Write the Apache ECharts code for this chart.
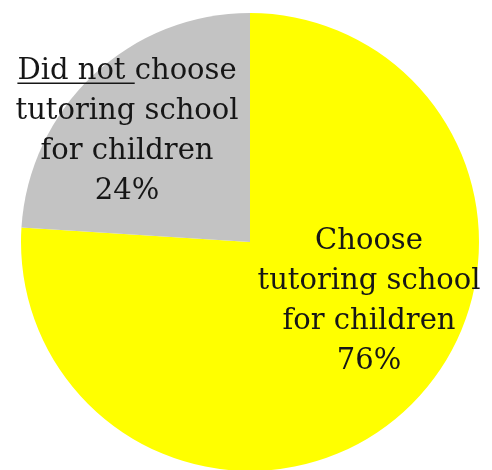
<!DOCTYPE html>
<html>
<head>
<meta charset="utf-8">
<script src="https://cdn.jsdelivr.net/npm/echarts@6/dist/echarts.min.js"></script>
<style>
  html, body { margin: 0; padding: 0; background: #fff; }
  #chart { width: 492px; height: 470px; }
</style>
</head>
<body>
<div id="chart"></div>
<script>
// Survey shares: parents choosing a tutoring school for their children
const categories = ['Choose\ntutoring school\nfor children', 'Did not choose\ntutoring school\nfor children'];
const shares = [76, 24];
const sliceColors = ['#ffff00', '#c3c3c3'];

// Where each slice's label block is centred
const labelSpots = [[369, 301], [127, 131]];

const chart = echarts.init(document.getElementById('chart'));

const FONT = 'DejaVu Serif';
const FONT_SIZE = 29;
const LINE_H = 40;

chart.setOption({
  animation: false,
  series: [{
    type: 'pie',
    center: [250, 242],
    radius: [0, 229],
    startAngle: 90,
    clockwise: true,
    silent: true,
    data: categories.map((name, i) => ({
      name: name,
      value: shares[i],
      itemStyle: { color: sliceColors[i] }
    })),
    label: {
      show: true,
      position: 'inside',
      formatter: p => p.name + '\n' + p.value + '%',
      fontFamily: FONT,
      fontSize: FONT_SIZE,
      lineHeight: LINE_H,
      color: '#161616',
      align: 'center'
    },
    labelLine: { show: false },
    labelLayout: p => ({
      x: labelSpots[p.dataIndex][0],
      y: labelSpots[p.dataIndex][1],
      align: 'center',
      verticalAlign: 'middle'
    })
  }]
});

// Underline beneath "Did not " (trailing space included) on the grey label's first line
const measure = document.createElement('canvas').getContext('2d');
measure.font = FONT_SIZE + 'px "' + FONT + '"';
const fullW = measure.measureText('Did not choose').width;
const partW = measure.measureText('Did not ').width;
const left = labelSpots[1][0] - fullW / 2;
const underY = labelSpots[1][1] - 1.5 * LINE_H + FONT_SIZE * 0.42;
chart.setOption({
  graphic: [{
    type: 'line',
    silent: true,
    z: 100,
    shape: { x1: left, y1: underY, x2: left + partW, y2: underY },
    style: { stroke: '#161616', lineWidth: 1.5 }
  }]
});
</script>
</body>
</html>
